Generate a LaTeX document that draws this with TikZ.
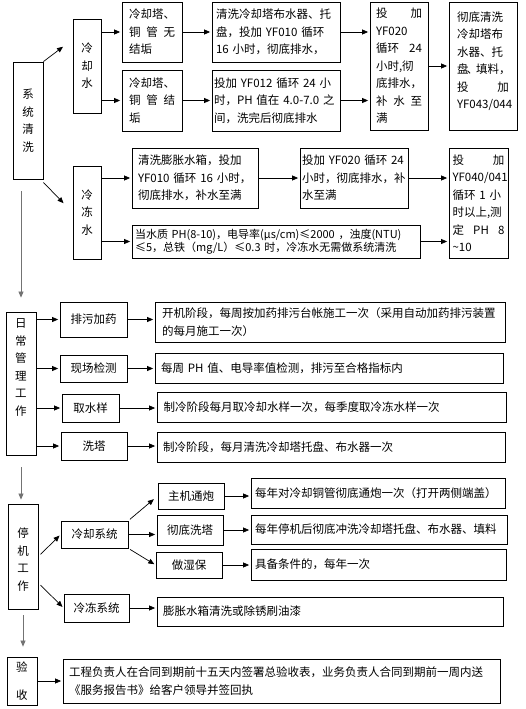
\documentclass[tikz,border=0pt]{standalone}
\usepackage{fontspec}
\setmainfont{Noto Sans CJK SC}
\usetikzlibrary{arrows.meta, positioning}
\tikzset{
	stepbox/.style={draw, line width=0.8pt, inner sep=2pt, align=left, font=\fontsize{11.5}{17.5}\selectfont},
	labelbox/.style={draw, line width=0.8pt, inner sep=2pt, align=center, font=\fontsize{11.5}{17.5}\selectfont},
	flowarr/.style={-{Triangle[length=6pt, width=5pt]}, line width=0.7pt, shorten >=1.5pt},
	mainarr/.style={flowarr, draw=black!55, fill=black!55},
}

\begin{document}
\begin{tikzpicture}[x=1pt, y=-1pt]
	\useasboundingbox (0,0) rectangle (526,709);
	% system cleaning
	\node[labelbox, minimum width=30, minimum height=117] (sys) at (28,120.5) {系\\统\\清\\洗};
	\node[labelbox, minimum width=28, minimum height=94] (cw) at (87,66) {冷\\却\\水};
	\node[labelbox, minimum width=28, minimum height=93] (fw) at (87,212.5) {冷\\冻\\水};
	\draw[flowarr, shorten >=12pt] (sys.north east) -- ([yshift=26.5pt]cw.west);
	\draw[flowarr, shorten >=13pt] ([yshift=-3pt]sys.south east) -- (fw.west);
	% cooling water
	\node[stepbox, minimum width=60, minimum height=60, text width=46] (cw1) at (152,32) {冷却塔、\\铜\hfill 管\hfill 无\\结垢};
	\node[stepbox, minimum width=60, minimum height=61, text width=46] (cw2) at (152,100.5) {冷却塔、\\铜\hfill 管\hfill 结\\垢};
	\node[stepbox, minimum width=128, minimum height=60, text width=120] (cw1b) at (276,32) {清洗冷却塔布水器、托\\盘，投加 YF010 循环\\16 小时，彻底排水，};
	\node[stepbox, minimum width=128, minimum height=61, text width=124] (cw2b) at (276,100.5) {投加 YF012 循环 24 小\\时，PH~值在~4.0-7.0~之\\间，洗完后彻底排水};
	\node[stepbox, minimum width=58, minimum height=128, text width=46] (cwc) at (399,66) {投\hfill 加\\YF020\\循环\hfill 24\\小时,彻\\底排水，\\补\hfill 水\hfill 至\\满};
	\node[stepbox, minimum width=68, minimum height=128, text width=52] (cwd) at (483,66) {彻底清洗\\冷却塔布\\水器、托\\盘\kern-2pt、\kern-2pt填料，\\投\hfill 加\\YF043/044\\[-5.5pt]\mbox{}};
	\draw[flowarr] (cw.east |- cw1.west) -- (cw1.west);
	\draw[flowarr] (cw.east |- cw2.west) -- (cw2.west);
	\draw[flowarr] (cw1.east) -- (cw1b.west);
	\draw[flowarr] (cw2.east) -- (cw2b.west);
	\draw[flowarr] (cw1b.east) -- (cw1b.east -| cwc.west);
	\draw[flowarr] (cw2b.east) -- (cw2b.east -| cwc.west);
	\draw[flowarr] (cwc.east) -- (cwd.west);
	% chilled water
	\node[stepbox, minimum width=126, minimum height=60, text width=114] (fw1) at (195,178) {清洗膨胀水箱，投加\\YF010 循环 16 小时，\\彻底排水，补水至满};
	\node[stepbox, minimum width=288, minimum height=33, text width=282, font=\fontsize{11}{13.5}\selectfont] (fw2) at (276,241.5) {当水质 PH(8-10)，电导率(μs/cm)≤2000 ，浊度(NTU)\\≤5，总铁（mg/L）≤0.3 时，冷冻水无需做系统清洗};
	\node[stepbox, minimum width=108, minimum height=60, text width=104] (fw1b) at (354,178) {投加 YF020 循环 24\\小时，彻底排水，补\\水至满};
	\node[stepbox, minimum width=59, minimum height=110, text width=52] (fwc) at (478.5,203) {投\hfill 加\\YF040/041\\循环 1 小\\时以上,测\\定\hfill PH\hfill 8\\\textasciitilde 10};
	\draw[flowarr] (fw.east |- fw1.west) -- (fw1.west);
	\draw[flowarr] (fw.east |- fw2.west) -- (fw2.west);
	\draw[flowarr] (fw1.east) -- (fw1b.west);
	\draw[flowarr] (fw1b.east) -- (fw1b.east -| fwc.west);
	\draw[flowarr] (fw2.east) -- (fw2.east -| fwc.west);
	% daily work
	\node[labelbox, minimum width=30, minimum height=143] (daily) at (21,383.5) {日\\常\\管\\理\\工\\作\\[15pt]\mbox{}};
	\draw[mainarr, shorten <=12pt, shorten >=14pt] (sys.south -| daily.north) -- (daily.north);
	\node[labelbox, minimum width=67, minimum height=35] (d1) at (93.5,319.5) {排污加药};
	\node[labelbox, minimum width=67, minimum height=27] (d2) at (93.5,368.5) {现场检测};
	\node[labelbox, minimum width=57, minimum height=28] (d3) at (90.5,408) {取水样};
	\node[labelbox, minimum width=66, minimum height=28] (d4) at (94,446) {洗塔};
	\node[stepbox, minimum width=350, minimum height=40, text width=336] (d1b) at (330,322) {开机阶段，每周按加药排污台帐施工一次（采用自动加药排污装置\\的每月施工一次）};
	\node[stepbox, minimum width=348, minimum height=30, text width=336] (d2b) at (329,368) {每周 PH 值、电导率值检测，排污至合格指标内};
	\node[stepbox, minimum width=349, minimum height=30, text width=336] (d3b) at (331.5,407) {制冷阶段每月取冷却水样一次，每季度取冷冻水样一次};
	\node[stepbox, minimum width=348, minimum height=30, text width=336] (d4b) at (331,447) {制冷阶段，每月清洗冷却塔托盘、布水器一次};
	\foreach \row in {d1, d2, d3, d4} {
		\draw[flowarr] (daily.east |- \row.west) -- (\row.west);
		\draw[flowarr] (\row.east) -- (\row.east -| \row b.west);
	}
	% shutdown work
	\node[labelbox, minimum width=30, minimum height=105] (stop) at (23,556.5) {\mbox{}\\[-1.5pt]停\\机\\工\\作};
	\draw[mainarr, shorten <=12pt, shorten >=4pt] (daily.south) -- (daily.south |- stop.north);
	\node[labelbox, minimum width=67, minimum height=27] (cs) at (94.5,534.5) {冷却系统};
	\node[labelbox, minimum width=65, minimum height=28] (fs) at (96.5,608) {冷冻系统};
	\draw[flowarr, shorten <=3pt] (stop.east) -- (cs.west);
	\draw[flowarr, shorten <=3pt] ([yshift=-26.5pt]stop.east) -- (fs.west);
	\node[labelbox, minimum width=66, minimum height=26] (c1) at (191,496) {主机通炮};
	\node[labelbox, minimum width=66, minimum height=30] (c2) at (190,530) {彻底洗塔};
	\node[labelbox, minimum width=66, minimum height=26] (c3) at (189,565) {做湿保};
	\draw[flowarr, shorten <=2pt, shorten >=5pt] (cs.north east) -- (c1.west);
	\draw[flowarr] (cs.east) -- (cs.east -| c2.west);
	\draw[flowarr, shorten <=2pt] (cs.south east) -- (c3.west);
	\node[stepbox, minimum width=254, minimum height=30, text width=246] (c1b) at (378,493) {每年对冷却铜管彻底通炮一次（打开两侧端盖）};
	\node[stepbox, minimum width=256, minimum height=29, text width=248] (c2b) at (379,529.5) {每年停机后彻底冲洗冷却塔托盘、布水器、填料};
	\node[stepbox, minimum width=255, minimum height=31, text width=247] (c3b) at (378.5,564.5) {具备条件的，每年一次};
	\foreach \row in {c1, c2, c3}
		\draw[flowarr] (\row.east) -- (\row.east -| \row b.west);
	\node[stepbox, minimum width=346, minimum height=29, text width=334] (fsb) at (330,611.5) {膨胀水箱清洗或除锈刷油漆};
	\draw[flowarr] (fs.east) -- (fs.east -| fsb.west);
	% acceptance
	\node[labelbox, minimum width=30, minimum height=48] (acc) at (22,681) {验\\[10pt]收};
	\draw[mainarr, shorten <=6pt, shorten >=10pt] (stop.south) -- (stop.south |- acc.north);
	\node[stepbox, minimum width=437, minimum height=44, text width=425] (accb) at (281.5,681) {工程负责人在合同到期前十五天内签署总验收表，业务负责人合同到期前一周内送\\《服务报告书》给客户领导并签回执};
	\draw[flowarr] (acc.east) -- (accb.west);
\end{tikzpicture}
\end{document}
